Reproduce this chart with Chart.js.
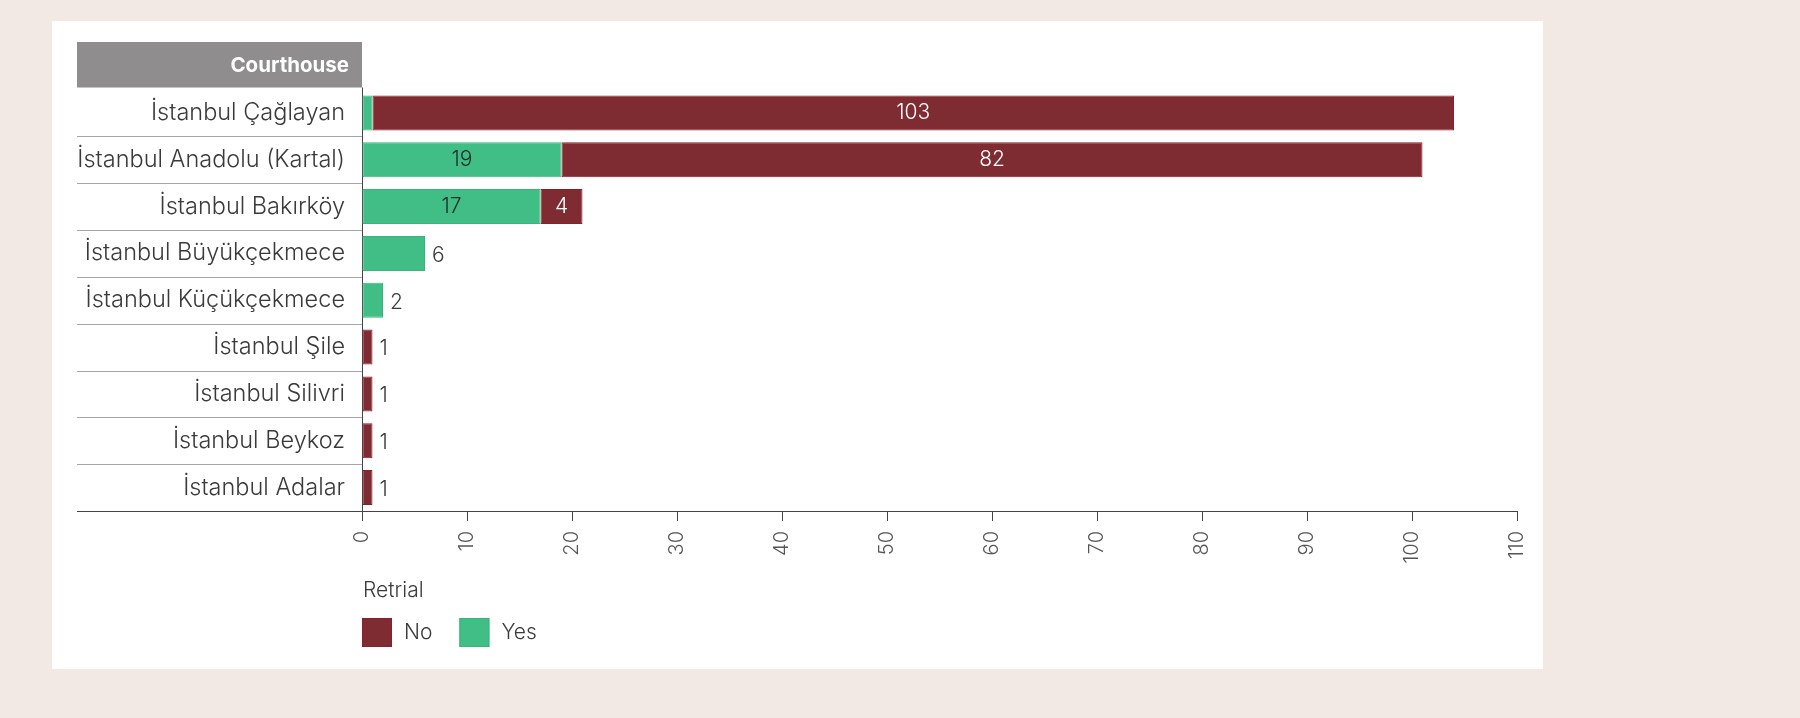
<!DOCTYPE html>
<html lang="en">
  <head>
    <meta charset="UTF-8" />
    <title>Retrial by courthouse</title>
    <script src="https://cdn.jsdelivr.net/npm/chart.js"></script>
    <style>
      body {
        margin: 0;
        background: #f2e9e4;
        width: 1800px;
        height: 718px;
        overflow: hidden;
      }
      #card {
        position: absolute;
        left: 52px;
        top: 21px;
        width: 1491px;
        height: 648px;
        background: #ffffff;
      }
    </style>
  </head>
  <body>
    <div id="card"><canvas id="grafica"></canvas></div>
    <script>
      const courthouses = [
        "İstanbul Çağlayan",
        "İstanbul Anadolu (Kartal)",
        "İstanbul Bakırköy",
        "İstanbul Büyükçekmece",
        "İstanbul Küçükçekmece",
        "İstanbul Şile",
        "İstanbul Silivri",
        "İstanbul Beykoz",
        "İstanbul Adalar",
      ];
      const yesValues = [1, 19, 17, 6, 2, 0, 0, 0, 0];
      const noValues = [103, 82, 4, 0, 0, 1, 1, 1, 1];
      const xTickValues = [0, 10, 20, 30, 40, 50, 60, 70, 80, 90, 100, 110];

      const FONT = 'Inter, "Open Sans", sans-serif';
      const TEXT = "#3a3a3a";
      const LEFT_COL = 25; // inicio de la columna de nombres

      // cabecera gris, separadores de filas y prolongacion del eje
      const tablePlugin = {
        id: "tabla",
        afterDraw(chart) {
          const ctx = chart.ctx;
          const area = chart.chartArea;
          const y = chart.scales.y;
          const headTop = 21;
          const headBottom = area.top - 2;
          ctx.save();
          ctx.fillStyle = "#8f8d8d";
          ctx.fillRect(LEFT_COL, headTop, area.left - LEFT_COL, headBottom - headTop);
          ctx.fillStyle = "#ffffff";
          ctx.font = "bold 20.5px " + FONT;
          ctx.textAlign = "right";
          ctx.textBaseline = "middle";
          ctx.fillText("Courthouse", area.left - 13, (headTop + headBottom) / 2 + 1);

          const pitch = y.getPixelForValue(1) - y.getPixelForValue(0);
          ctx.strokeStyle = "#a6a6a6";
          ctx.lineWidth = 1;
          for (let i = 1; i < courthouses.length; i++) {
            const yy = Math.round(y.getPixelForValue(i) - pitch / 2) + 0.5;
            ctx.beginPath();
            ctx.moveTo(LEFT_COL, yy);
            ctx.lineTo(area.left, yy);
            ctx.stroke();
          }
          ctx.strokeStyle = "#444444";
          ctx.beginPath();
          ctx.moveTo(LEFT_COL, Math.round(area.bottom) + 0.5);
          ctx.lineTo(area.left, Math.round(area.bottom) + 0.5);
          ctx.moveTo(Math.round(area.left) + 0.5, headBottom);
          ctx.lineTo(Math.round(area.left) + 0.5, area.top);
          ctx.stroke();

          // leyenda propia: titulo + cuadros (No, Yes)
          ctx.font = "300 21px " + FONT;
          ctx.fillStyle = TEXT;
          ctx.textAlign = "left";
          ctx.textBaseline = "alphabetic";
          ctx.fillText("Retrial", area.left + 1, area.bottom + 86);
          let x = area.left;
          const top = area.bottom + 107;
          chart.data.datasets
            .slice()
            .reverse()
            .forEach(function (ds) {
              ctx.fillStyle = ds.backgroundColor;
              ctx.fillRect(x, top, 30, 29);
              ctx.strokeStyle = ds.borderColor;
              ctx.strokeRect(x + 0.5, top + 0.5, 29, 28);
              ctx.fillStyle = TEXT;
              ctx.textBaseline = "middle";
              ctx.fillText(ds.label, x + 42, top + 15);
              x += 42 + ctx.measureText(ds.label).width + 27;
            });
          ctx.restore();
        },
      };

      // etiquetas de valores
      const valuePlugin = {
        id: "valores",
        afterDatasetsDraw(chart) {
          const ctx = chart.ctx;
          ctx.save();
          ctx.font = "300 21px " + FONT;
          ctx.textBaseline = "middle";
          chart.data.datasets.forEach(function (ds, di) {
            const meta = chart.getDatasetMeta(di);
            meta.data.forEach(function (bar, i) {
              const v = ds.data[i];
              if (!v) return;
              const nonZero = chart.data.datasets.filter((d) => d.data[i] > 0).length;
              if (nonZero === 1) {
                ctx.fillStyle = TEXT;
                ctx.textAlign = "left";
                ctx.fillText(String(v), bar.x + 7, bar.y + 2);
              } else if (bar.x - bar.base > 25) {
                ctx.fillStyle = ds.label === "No" ? "#ffffff" : "#24302a";
                ctx.textAlign = "center";
                ctx.fillText(String(v), (bar.x + bar.base) / 2, bar.y);
              }
            });
          });
          ctx.restore();
        },
      };

      new Chart(document.getElementById("grafica"), {
        type: "bar",
        data: {
          labels: courthouses,
          datasets: [
            {
              label: "Yes",
              data: yesValues,
              backgroundColor: "#41be86",
              borderColor: "#36b67c",
              borderWidth: 1,
              borderSkipped: false,
              categoryPercentage: 1,
              barPercentage: 0.746,
            },
            {
              label: "No",
              data: noValues,
              backgroundColor: "#7e2b31",
              borderColor: "#8c1d2a",
              borderWidth: 1,
              borderSkipped: false,
              categoryPercentage: 1,
              barPercentage: 0.746,
            },
          ],
        },
        options: {
          indexAxis: "y",
          responsive: true,
          maintainAspectRatio: false,
          animation: false,
          layout: {
            padding: { left: LEFT_COL, right: 26, top: 68.5, bottom: 98 },
          },
          scales: {
            x: {
              stacked: true,
              min: 0,
              max: 110,
              afterBuildTicks: function (scale) {
                scale.ticks = xTickValues.map((v) => ({ value: v }));
              },
              afterFit: function (scale) {
                scale.height = 60;
                scale.paddingLeft = 0;
                scale.paddingRight = 0;
              },
              grid: {
                display: true,
                drawOnChartArea: false,
                drawTicks: true,
                tickLength: 10,
                color: "#444444",
              },
              border: { display: true, color: "#444444", width: 1 },
              ticks: {
                minRotation: 90,
                maxRotation: 90,
                padding: 10,
                color: "#555555",
                font: { family: FONT, size: 20, weight: "300" },
              },
            },
            y: {
              stacked: true,
              afterFit: function (scale) {
                scale.width = 285;
              },
              grid: { display: false, drawTicks: false },
              border: { display: true, color: "#444444", width: 1 },
              ticks: {
                padding: 17,
                color: TEXT,
                font: { family: FONT, size: 23.5, weight: "300" },
              },
            },
          },
          plugins: {
            legend: { display: false },
            tooltip: { enabled: false },
          },
        },
        plugins: [tablePlugin, valuePlugin],
      });
    </script>
  </body>
</html>
